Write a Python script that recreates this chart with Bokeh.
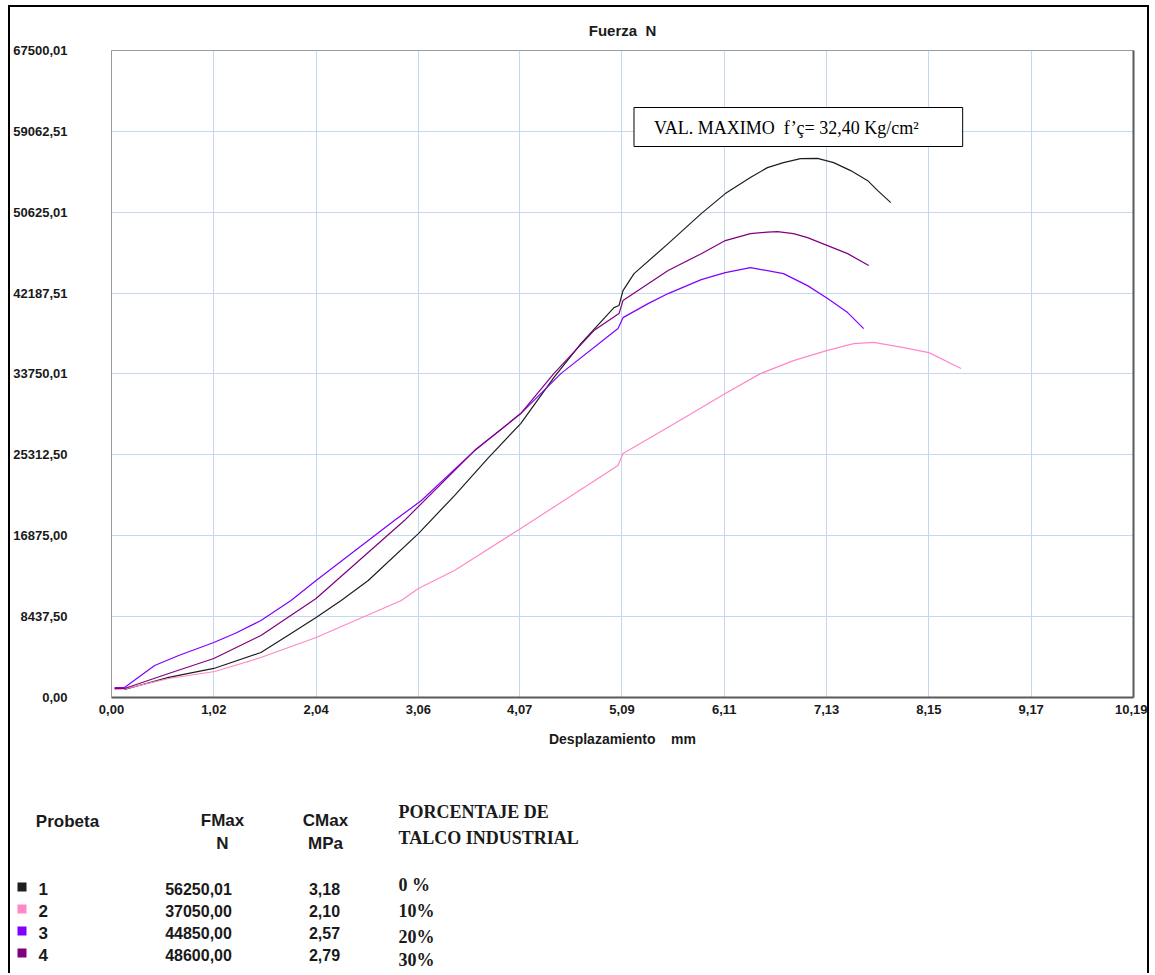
from bokeh.plotting import figure
from bokeh.layouts import column
from bokeh.models import (FixedTicker, CustomJSTickFormatter, LinearAxis, Range1d)
from bokeh.core.properties import value
from bokeh.embed import file_html
from bokeh.resources import INLINE

# ---------------- data ----------------
X_TICK_LABELS = ["0,00", "1,02", "2,04", "3,06", "4,07", "5,09", "6,11", "7,13", "8,15", "9,17", "10,19"]
Y_TICK_LABELS = ["0,00", "8437,50", "16875,00", "25312,50", "33750,01", "42187,51",
                 "50625,01", "59062,51", "67500,01"]
X_TICKS = [float(s.replace(",", ".")) for s in X_TICK_LABELS]
Y_TICKS = [float(s.replace(",", ".")) for s in Y_TICK_LABELS]

# Probeta 1 (0 %)
X1 = [0.13, 0.57, 1.02, 1.49, 1.79, 2.04, 2.29, 2.56, 3.06, 3.42, 3.75, 4.08, 4.41, 4.68, 5.01,
      5.06, 5.10, 5.21, 5.55, 5.88, 6.12, 6.37, 6.54, 6.70, 6.87, 7.04, 7.20, 7.37, 7.54, 7.64, 7.77]
Y1 = [830, 2100, 3030, 4690, 6680, 8340, 10120, 12200, 17100, 21070, 24930, 28580, 33380, 36920,
      40680, 40890, 42450, 44220, 47350, 50480, 52570, 54240, 55280, 55800, 56220, 56250, 55800,
      54970, 53920, 52880, 51630]
# Probeta 2 (10 %)
X2 = [0.03, 0.13, 0.57, 1.03, 1.49, 2.04, 2.89, 3.06, 3.42, 4.08, 5.05, 5.10, 5.41, 5.58, 5.75,
      6.12, 6.47, 6.80, 7.13, 7.40, 7.60, 7.90, 8.15, 8.47]
Y2 = [830, 900, 1980, 2710, 4170, 6260, 10120, 11370, 13250, 17630, 24200, 25450, 27330, 28370,
      29410, 31710, 33790, 35150, 36190, 36920, 37050, 36500, 35980, 34320]
# Probeta 3 (20 %)
X3 = [0.03, 0.13, 0.43, 0.67, 1.02, 1.23, 1.49, 1.79, 2.04, 2.82, 3.09, 3.62, 4.08, 4.48, 5.05,
      5.10, 5.35, 5.55, 5.88, 6.12, 6.37, 6.70, 6.94, 7.14, 7.34, 7.50]
Y3 = [1040, 1040, 3340, 4380, 5740, 6680, 8030, 10120, 12200, 18460, 20550, 25760, 29620, 33790,
      38490, 39630, 41090, 42140, 43600, 44330, 44850, 44220, 42970, 41620, 40160, 38490]
# Probeta 4 (30 %)
X4 = [0.03, 0.13, 0.57, 1.02, 1.49, 2.04, 2.92, 3.62, 4.08, 4.41, 4.81, 5.06, 5.10, 5.55, 5.88,
      6.12, 6.37, 6.54, 6.64, 6.80, 6.94, 7.14, 7.34, 7.55]
Y4 = [940, 940, 2500, 4070, 6470, 10330, 18460, 25760, 29620, 33790, 38280, 40050, 41410, 44540,
      46300, 47670, 48400, 48550, 48600, 48400, 47980, 47140, 46310, 45060]

PROBETAS = ["1", "2", "3", "4"]
FMAX = ["56250,01", "37050,00", "44850,00", "48600,00"]
CMAX = ["3,18", "2,10", "2,57", "2,79"]
PORC = ["0 %", "10%", "20%", "30%"]
COLORS = ["#1e1e1e", "#ff88c8", "#8000ff", "#800080"]
SERIES = [(X1, Y1), (X2, Y2), (X3, Y3), (X4, Y4)]

# ---------------- layout (page pixels) ----------------
OX, OY = 10, 7                     # content origin inside the outer border
CW = 1137                          # content width
CH_TOP = 753                       # chart figure height
CH_BOT = 213                       # table figure height
FL, FT, FW, FH = 110 - OX, 50 - OY, 1023, 647
XMAX, YMAX = X_TICKS[-1], Y_TICKS[-1]

SANS = "Liberation Sans"
SERIF = "Liberation Serif"
TXT = "#1a1a1a"

p = figure(width=CW, height=CH_TOP, output_backend="svg", toolbar_location=None,
           x_range=Range1d(0, XMAX), y_range=Range1d(0, YMAX),
           min_border_left=FL, min_border_top=FT,
           min_border_right=CW - FL - FW, min_border_bottom=CH_TOP - FT - FH)
p.background_fill_color = "white"
p.border_fill_color = "white"
p.outline_line_color = "#9a9a9a"
p.outline_line_width = 1

p.title.text = "Fuerza \u00a0N"
p.title.align = "center"
p.title.text_font = SANS
p.title.text_font_style = "bold"
p.title.text_font_size = "15px"
p.title.text_color = TXT
p.title.standoff = 23

for ax, ticks, labels in ((p.xaxis[0], X_TICKS, X_TICK_LABELS), (p.yaxis[0], Y_TICKS, Y_TICK_LABELS)):
    ax.ticker = FixedTicker(ticks=ticks)
    ax.formatter = CustomJSTickFormatter(args=dict(labels=labels), code="return labels[index];")
    ax.major_tick_in = 0
    ax.major_tick_out = 0
    ax.minor_tick_in = 0
    ax.minor_tick_out = 0
    ax.major_label_text_font = SANS
    ax.major_label_text_font_style = "bold"
    ax.major_label_text_font_size = "13px"
    ax.major_label_text_color = TXT

p.xaxis.axis_line_color = "#5a5a5a"
p.xaxis.axis_line_width = 2
p.xaxis.major_label_standoff = 7
p.xaxis.axis_label = "Desplazamiento \u00a0 \u00a0mm"
p.xaxis.axis_label_text_font = SANS
p.xaxis.axis_label_text_font_style = "bold"
p.xaxis.axis_label_text_font_size = "14px"
p.xaxis.axis_label_text_color = TXT
p.xaxis.axis_label_standoff = 14

p.yaxis.axis_line_color = "#9a9a9a"
p.yaxis.axis_line_width = 1
p.yaxis.major_label_standoff = 44

right = LinearAxis(ticker=FixedTicker(ticks=[]), major_tick_in=0, major_tick_out=0,
                   minor_tick_in=0, minor_tick_out=0, major_label_text_font_size="0px",
                   axis_line_color="#5a5a5a", axis_line_width=2)
p.add_layout(right, "right")

p.xgrid.ticker = FixedTicker(ticks=X_TICKS)
p.ygrid.ticker = FixedTicker(ticks=Y_TICKS)
for g in (p.xgrid, p.ygrid):
    g.grid_line_color = "#c4d8ee"
    g.grid_line_width = 1

for (xs, ys), c in zip(SERIES, COLORS):
    p.line(xs, ys, line_color=c, line_width=1.2, line_join="round")


# annotation box (inside the plot frame, data coordinates derived from page pixels)
def px2x(px):
    return (px - 110) / FW * XMAX


def px2y(py):
    return (697 - py) / FH * YMAX


p.quad(left=[px2x(633)], right=[px2x(962)], top=[px2y(107)], bottom=[px2y(146)],
       fill_color="white", line_color="black", line_width=1)
p.text(x=[px2x(653)], y=[px2y(127)], text=["VAL. MAXIMO \u00a0f’ç= 32,40 Kg/cm²"],
       text_align="left", text_baseline="middle", text_font=value(SERIF),
       text_font_size="18px", text_color="black")

# ---------------- table figure (page-pixel coordinates) ----------------
T_TOP = OY + CH_TOP
t = figure(width=CW, height=CH_BOT, output_backend="svg", toolbar_location=None,
           x_range=Range1d(OX, OX + CW), y_range=Range1d(T_TOP + CH_BOT, T_TOP),
           x_axis_type=None, y_axis_type=None,
           min_border_left=0, min_border_right=0, min_border_top=0, min_border_bottom=0)
t.outline_line_color = None
t.xgrid.visible = False
t.ygrid.visible = False
t.background_fill_color = "white"
t.border_fill_color = "white"

for fig in (p, t):
    if "frame_align" in fig.properties():
        fig.frame_align = False


def lab(x, y, s, align="left", font=SANS, size="17px", style="bold"):
    t.text(x=[x], y=[y], text=[s], text_align=align, text_baseline="middle",
           text_font=value(font), text_font_style=style, text_font_size=size, text_color=TXT)


lab(67, 821, "Probeta", "center")
lab(222, 820, "FMax", "center")
lab(222, 843, "N", "center")
lab(325, 820, "CMax", "center")
lab(325, 843, "MPa", "center")
lab(398, 811, "PORCENTAJE DE", "left", SERIF, "18px")
lab(398, 837, "TALCO INDUSTRIAL", "left", SERIF, "18px")

ROW_Y = [888, 910, 932, 954]
PORC_Y = [884, 910, 936, 959]
t.quad(left=[17] * 4, right=[26] * 4, top=[y - 6 for y in ROW_Y], bottom=[y + 3 for y in ROW_Y],
       fill_color=COLORS, line_color=None)
for i in range(4):
    y = ROW_Y[i]
    lab(38, y, PROBETAS[i], "left")
    lab(198, y, FMAX[i], "center", size="16px")
    lab(324, y, CMAX[i], "center", size="16px")
    lab(398, PORC_Y[i], PORC[i], "left", SERIF, "18px")

root = column(p, t, spacing=0, margin=(5, 0, 0, 8),
              styles={"border-left": "2px solid black", "border-right": "2px solid black",
                      "border-top": "2px solid black"})

open("out.html", "w").write(file_html(root, INLINE))
